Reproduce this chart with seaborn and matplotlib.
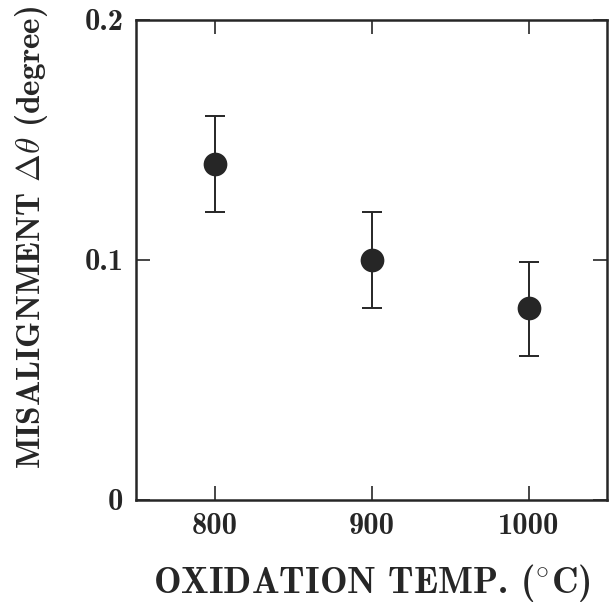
import matplotlib
matplotlib.use("Agg")
import matplotlib.pyplot as plt
import numpy as np
import pandas as pd
import seaborn as sns

# data
temps = [800, 900, 1000]
misalign = [0.14, 0.10, 0.08]
err_low = [0.02, 0.02, 0.02]
err_high = [0.02, 0.02, 0.019]

x_ticks = [800, 900, 1000]
y_ticks = [0.0, 0.1, 0.2]
y_tick_labels = ["0", "0.1", "0.2"]

sns.set_style("ticks")
plt.rcParams["font.family"] = ["cmb10", "DejaVu Serif"]
plt.rcParams["mathtext.fontset"] = "cm"
plt.rcParams["axes.unicode_minus"] = False

ink = "#262626"
df = pd.DataFrame({"temp": temps, "mis": misalign})

fig = plt.figure(figsize=(6.12, 6.09), dpi=100)
ax = fig.add_axes([136 / 612, 1 - 500 / 609, (607 - 136) / 612, (500 - 20) / 609])

ax.errorbar(
    temps, misalign, yerr=[err_low, err_high], fmt="none",
    ecolor=ink, elinewidth=1.4, capsize=7.5, capthick=1.4, zorder=2,
)
sns.scatterplot(
    data=df, x="temp", y="mis", ax=ax, s=250, color=ink,
    edgecolor=ink, zorder=3, legend=False,
)

ax.set_xlim(750, 1050)
ax.set_ylim(0, 0.2)
ax.set_xticks(x_ticks)
ax.set_xticklabels([str(t) for t in x_ticks])
ax.set_yticks(y_ticks)
ax.set_yticklabels(y_tick_labels)

ax.tick_params(axis="both", direction="in", length=10, width=1.2,
               top=True, right=True, labelsize=22, pad=9, colors=ink)
for s in ax.spines.values():
    s.set_linewidth(1.8)
    s.set_color(ink)

ax.set_xlabel(r"OXIDATION TEMP. ($^{\circ}$C)", fontsize=26.5, labelpad=16,
              color=ink)
ax.set_ylabel(r"MISALIGNMENT $\Delta\theta$ (degree)", fontsize=24,
              color=ink)
ax.yaxis.set_label_coords(-0.183, 0.547)

fig.savefig("out.png", dpi=100)
